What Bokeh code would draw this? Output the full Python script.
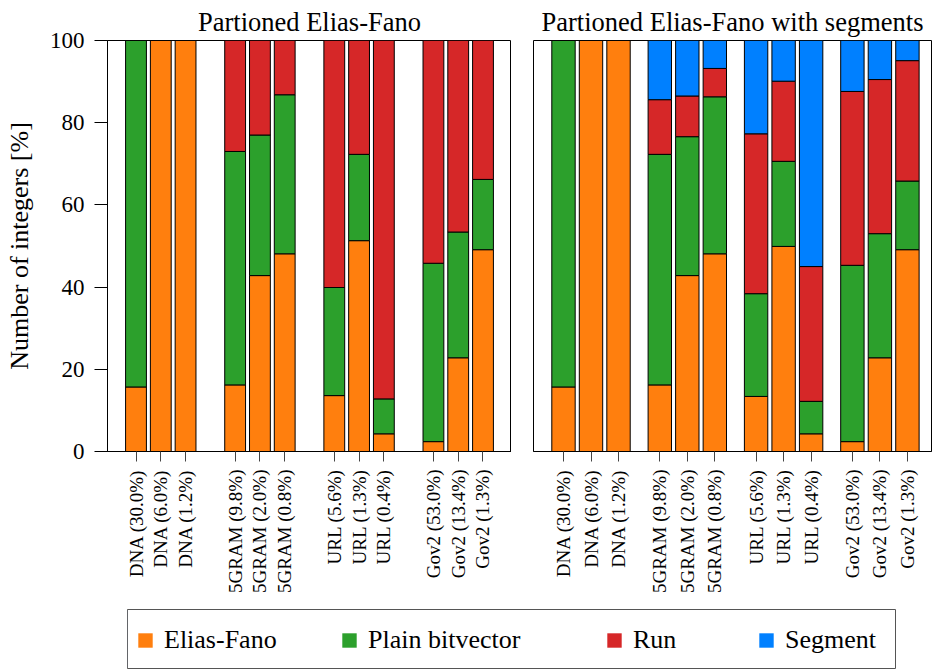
import math

from bokeh.embed import file_html
from bokeh.layouts import column, row
from bokeh.models import ColumnDataSource, FixedTicker, Legend, LegendItem, Range1d
from bokeh.plotting import figure
from bokeh.resources import INLINE

# Datasets (fraction of the collection sampled, in %)
labels = [
    "DNA (30.0%)", "DNA (6.0%)", "DNA (1.2%)",
    "5GRAM (9.8%)", "5GRAM (2.0%)", "5GRAM (0.8%)",
    "URL (5.6%)", "URL (1.3%)", "URL (0.4%)",
    "Gov2 (53.0%)", "Gov2 (13.4%)", "Gov2 (1.3%)",
]

# Partitioned Elias-Fano: share of integers per partition encoding [%]
pef_elias_fano = [15.7, 100.0, 100.0, 16.2, 42.8, 48.1, 13.6, 51.3, 4.3, 2.4, 22.8, 49.1]
pef_plain = [84.3, 0.0, 0.0, 56.8, 34.2, 38.7, 26.3, 21.0, 8.5, 43.4, 30.6, 17.1]
pef_run = [0.0, 0.0, 0.0, 27.0, 23.0, 13.2, 60.1, 27.7, 87.2, 54.2, 46.6, 33.8]

# Partitioned Elias-Fano with segments
seg_elias_fano = [15.7, 100.0, 100.0, 16.2, 42.8, 48.1, 13.4, 49.9, 4.3, 2.4, 22.8, 49.1]
seg_plain = [84.3, 0.0, 0.0, 56.1, 33.8, 38.2, 25.0, 20.7, 7.9, 42.9, 30.2, 16.7]
seg_run = [0.0, 0.0, 0.0, 13.3, 9.9, 6.9, 38.9, 19.5, 32.8, 42.3, 37.5, 29.3]
seg_segment = [0.0, 0.0, 0.0, 14.4, 13.5, 6.8, 22.7, 9.9, 55.0, 12.4, 9.5, 4.9]

series_names = ["Elias-Fano", "Plain bitvector", "Run", "Segment"]
colors = ["#ff7f0e", "#2ca02c", "#d62728", "#0080ff"]

SERIF = "Liberation Serif"
TOP_H = 600


def style(p, show_y):
    p.title.text_font = SERIF
    p.title.text_font_style = "normal"
    p.title.text_font_size = "26.5px"
    p.title.text_color = "black"
    p.title.align = "center"
    p.title.standoff = 8
    p.xgrid.grid_line_color = None
    p.ygrid.grid_line_color = None
    p.outline_line_color = "black"
    p.outline_line_width = 1
    p.background_fill_color = "white"
    p.border_fill_color = "white"

    xa = p.xaxis[0]
    xa.axis_line_color = "black"
    xa.major_tick_out = 10
    xa.major_tick_in = 0
    xa.major_tick_line_color = "#444444"
    xa.minor_tick_line_color = None
    xa.major_label_orientation = math.pi / 2
    xa.major_label_text_font = SERIF
    xa.major_label_text_font_size = "19px"
    xa.major_label_text_color = "black"
    xa.major_label_standoff = 8

    ya = p.yaxis[0]
    if show_y:
        ya.ticker = FixedTicker(ticks=[0, 20, 40, 60, 80, 100])
        ya.axis_line_color = "black"
        ya.major_tick_out = 13
        ya.major_tick_in = 0
        ya.major_tick_line_color = "black"
        ya.minor_tick_line_color = None
        ya.major_label_text_font = SERIF
        ya.major_label_text_font_size = "23px"
        ya.major_label_text_color = "black"
        ya.major_label_standoff = 10
        ya.axis_label = "Number of integers [%]"
        ya.axis_label_text_font = SERIF
        ya.axis_label_text_font_style = "normal"
        ya.axis_label_text_font_size = "26px"
        ya.axis_label_text_color = "black"
        ya.axis_label_standoff = 13
    else:
        ya.visible = False


# Left panel: groups of three bars, one empty slot between groups
x_left = [g * 4 + i for g in range(4) for i in range(3)]
src_left = ColumnDataSource(dict(x=x_left, ef=pef_elias_fano, pb=pef_plain, run=pef_run))

p1 = figure(
    width=511, height=TOP_H,
    x_range=Range1d(-1.15, 15.15), y_range=Range1d(0, 100),
    title="Partioned Elias-Fano",
    min_border_left=107, min_border_right=0, min_border_top=40, min_border_bottom=149,
    output_backend="svg", toolbar_location=None,
)
p1.vbar_stack(["ef", "pb", "run"], x="x", width=0.84, color=colors[:3],
              line_color="black", line_width=1, source=src_left)
p1.xaxis.ticker = FixedTicker(ticks=x_left)
p1.xaxis.major_label_overrides = {x: lab for x, lab in zip(x_left, labels)}
style(p1, True)

# Right panel: half-unit spacing, groups separated by half a slot
x_right = [g * 7 + 2 * i for g in range(4) for i in range(3)]
src_right = ColumnDataSource(dict(x=x_right, ef=seg_elias_fano, pb=seg_plain,
                                  run=seg_run, seg=seg_segment))

p2 = figure(
    width=425, height=TOP_H,
    x_range=Range1d(-2.18, 26.75), y_range=Range1d(0, 100),
    title="Partioned Elias-Fano with segments",
    min_border_left=22, min_border_right=5, min_border_top=40, min_border_bottom=149,
    output_backend="svg", toolbar_location=None,
)
p2.vbar_stack(["ef", "pb", "run", "seg"], x="x", width=1.7, color=colors,
              line_color="black", line_width=1, source=src_right)
p2.xaxis.ticker = FixedTicker(ticks=x_right)
p2.xaxis.major_label_overrides = {x: lab for x, lab in zip(x_right, labels)}
style(p2, False)

# Shared legend strip below both panels
lf = figure(
    width=936, height=669 - TOP_H,
    x_range=Range1d(0, 1), y_range=Range1d(0, 1),
    x_axis_type=None, y_axis_type=None,
    min_border_left=127, min_border_right=41, min_border_top=9, min_border_bottom=1,
    output_backend="svg", toolbar_location=None,
)
lf.xgrid.grid_line_color = None
lf.ygrid.grid_line_color = None
lf.outline_line_color = "#555555"
lf.outline_line_width = 1

# Swatch renderers sit outside the visible range; only their legend glyphs show
legend_x = [9, 213, 478, 630]
for name, color, lx in zip(series_names, colors, legend_x):
    r = lf.vbar(x=[-5], top=[1], width=0.1, fill_color=color, line_color=None)
    leg = Legend(
        items=[LegendItem(label=name, renderers=[r])],
        location=(lx, 13),
        orientation="horizontal",
        border_line_color=None, background_fill_alpha=0,
        padding=0, margin=0, spacing=0,
        glyph_width=18, glyph_height=18, label_height=30,
        label_standoff=10,
        label_text_font=SERIF, label_text_font_size="26px",
        label_text_color="black",
        label_text_baseline="middle",
    )
    lf.add_layout(leg, "center")

layout = column(row(p1, p2), lf)
open("out.html", "w").write(file_html(layout, INLINE))
